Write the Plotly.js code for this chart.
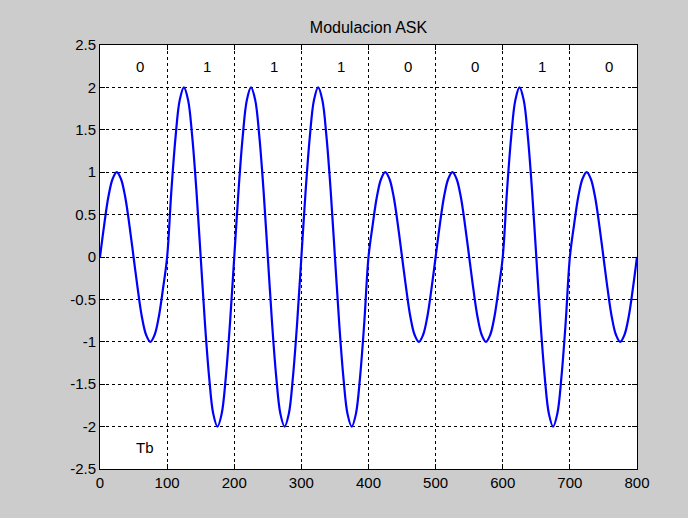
<!DOCTYPE html>
<html>
<head>
<meta charset="utf-8">
<script src="https://cdn.plot.ly/plotly-3.0.1.min.js"></script>
<style>html,body{margin:0;padding:0;background:#cccccc;}#chart{width:688px;height:518px;}</style>
</head>
<body>
<div id="chart"></div>
<script>
// ASK-modulated signal, sampled every 6.25 time units from 0 to 800
var signalY = [
  0, 0.38, 0.71, 0.92, 1, 0.92, 0.71, 0.38, 0, -0.38, -0.71, -0.92, -1, -0.92, -0.71, -0.38,
  0, 0.77, 1.41, 1.85, 2, 1.85, 1.41, 0.77, 0, -0.77, -1.41, -1.85, -2, -1.85, -1.41, -0.77,
  0, 0.77, 1.41, 1.85, 2, 1.85, 1.41, 0.77, 0, -0.77, -1.41, -1.85, -2, -1.85, -1.41, -0.77,
  0, 0.77, 1.41, 1.85, 2, 1.85, 1.41, 0.77, 0, -0.77, -1.41, -1.85, -2, -1.85, -1.41, -0.77,
  0, 0.38, 0.71, 0.92, 1, 0.92, 0.71, 0.38, 0, -0.38, -0.71, -0.92, -1, -0.92, -0.71, -0.38,
  0, 0.38, 0.71, 0.92, 1, 0.92, 0.71, 0.38, 0, -0.38, -0.71, -0.92, -1, -0.92, -0.71, -0.38,
  0, 0.77, 1.41, 1.85, 2, 1.85, 1.41, 0.77, 0, -0.77, -1.41, -1.85, -2, -1.85, -1.41, -0.77,
  0, 0.38, 0.71, 0.92, 1, 0.92, 0.71, 0.38, 0, -0.38, -0.71, -0.92, -1, -0.92, -0.71, -0.38,
  0
];
var bitLabels = ['0', '1', '1', '1', '0', '0', '1', '0'];
var bitLabelX = [50, 150, 250, 350, 450, 550, 650, 750];
var bitLabelY = 2.25;
var tbLabel = {text: 'Tb', x: 50, y: -2.25};
var xTicks = [0, 100, 200, 300, 400, 500, 600, 700, 800];
var yTicks = [-2.5, -2, -1.5, -1, -0.5, 0, 0.5, 1, 1.5, 2, 2.5];
var yTickText = ['-2.5', '-2', '-1.5', '-1', '-0.5', '0', '0.5', '1', '1.5', '2', '2.5'];

var FONT = {family: 'Liberation Sans, Arial, sans-serif', size: 15, color: '#000000'};
var TITLE_FONT = {family: 'Liberation Sans, Arial, sans-serif', size: 16, color: '#000000'};

var trace = {
  type: 'scatter', mode: 'lines',
  y: signalY, x0: 0, dx: 6.25,
  line: {color: '#0000ff', width: 2.2, shape: 'spline', smoothing: 1},
  hoverinfo: 'skip'
};

var annotations = bitLabels.map(function (t, i) {
  return {x: bitLabelX[i], y: bitLabelY, xref: 'x', yref: 'y', text: t, showarrow: false,
    xanchor: 'left', yanchor: 'middle', font: FONT};
});
annotations.push({x: tbLabel.x, y: tbLabel.y, xref: 'x', yref: 'y', text: tbLabel.text, showarrow: false,
  xanchor: 'left', yanchor: 'middle', font: FONT});

var axisCommon = {
  showline: true, linecolor: '#000000', linewidth: 1, mirror: 'ticks',
  ticks: 'inside', ticklen: 5, tickcolor: '#000000', tickwidth: 1,
  showgrid: true, gridcolor: '#000000', griddash: 'dot', gridwidth: 1,
  zeroline: false, tickfont: FONT, fixedrange: true
};

var layout = {
  width: 688, height: 518,
  paper_bgcolor: '#cccccc', plot_bgcolor: '#ffffff',
  margin: {l: 100, r: 51, t: 45, b: 49},
  showlegend: false,
  title: {text: 'Modulacion ASK', font: TITLE_FONT, x: 0.5, xref: 'paper', xanchor: 'center',
    y: 1 - 27 / 518, yref: 'container', yanchor: 'middle'},
  xaxis: Object.assign({}, axisCommon, {range: [0, 800], tickmode: 'array', tickvals: xTicks,
    ticktext: xTicks.map(String)}),
  yaxis: Object.assign({}, axisCommon, {range: [-2.5, 2.5], tickmode: 'array', tickvals: yTicks,
    ticktext: yTickText}),
  annotations: annotations
};

Plotly.newPlot('chart', [trace], layout, {displayModeBar: false, staticPlot: true});
</script>
</body>
</html>
